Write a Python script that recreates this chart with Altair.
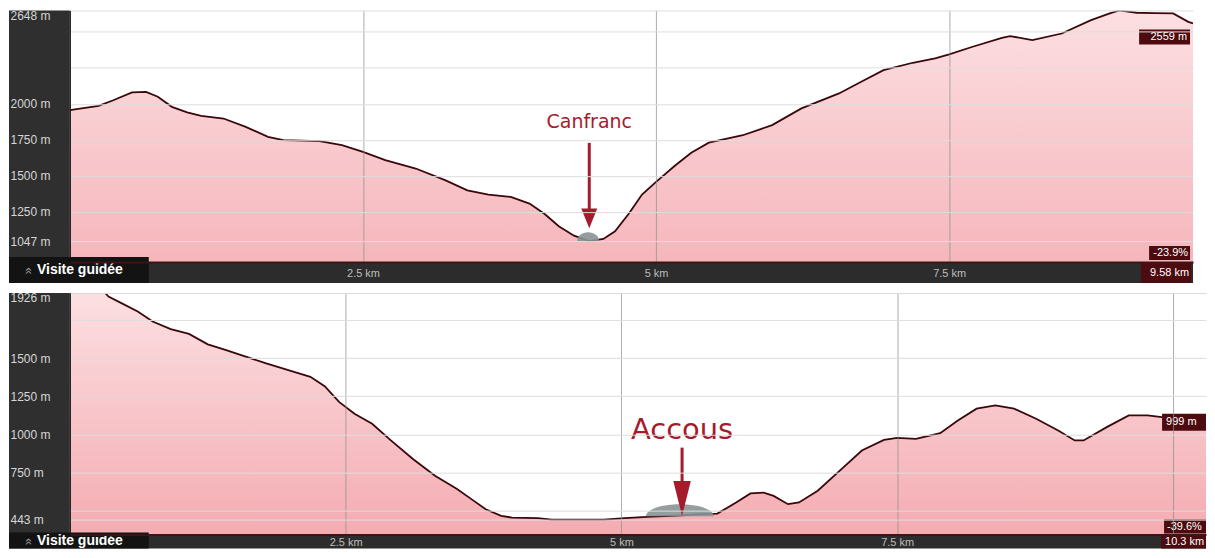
import altair as alt
import pandas as pd

# ---------------- data ----------------
top_km = [0, 0.245, 0.37, 0.53, 0.65, 0.75, 0.87, 1.0, 1.12, 1.31, 1.50, 1.69, 1.82, 2.13, 2.32, 2.5,
          2.69, 2.95, 3.20, 3.39, 3.57, 3.76, 3.92, 4.05, 4.17, 4.30, 4.43, 4.55, 4.65, 4.77, 4.88,
          5.0, 5.16, 5.30, 5.45, 5.74, 5.99, 6.24, 6.56, 6.75, 6.94, 7.19, 7.38, 7.5, 7.70, 7.95,
          8.02, 8.21, 8.46, 8.71, 8.87, 8.95, 9.1, 9.25, 9.41, 9.54, 9.58]
top_elev = [1956, 1986, 2025, 2079, 2083, 2049, 1979, 1940, 1917, 1898, 1840, 1771, 1748, 1741, 1713, 1667,
            1609, 1551, 1470, 1400, 1370, 1354, 1308, 1235, 1150, 1085, 1047, 1062, 1115, 1240, 1370,
            1458, 1570, 1660, 1730, 1782, 1852, 1968, 2072, 2153, 2234, 2285, 2315, 2343, 2396, 2458,
            2470, 2442, 2488, 2581, 2627, 2648, 2632, 2630, 2627, 2569, 2559]

bot_km = [0, 0.32, 0.35, 0.48, 0.615, 0.75, 0.914, 1.08, 1.25, 1.41, 1.58, 1.78, 1.98, 2.18, 2.31, 2.44,
          2.58, 2.74, 2.91, 3.11, 3.31, 3.51, 3.64, 3.77, 3.91, 4.01, 4.24, 4.37, 4.84, 5.03, 5.23,
          5.54, 5.70, 5.87, 6.04, 6.17, 6.29, 6.38, 6.51, 6.61, 6.78, 6.98, 7.18, 7.38, 7.5, 7.67,
          7.89, 8.05, 8.22, 8.39, 8.56, 8.76, 8.96, 9.11, 9.19, 9.40, 9.60, 9.77, 9.90, 10.1, 10.3]
bot_elev = [1926, 1926, 1903, 1855, 1805, 1739, 1689, 1658, 1590, 1553, 1513, 1465, 1421, 1377, 1316, 1213,
            1136, 1070, 961, 840, 730, 643, 577, 511, 467, 456, 452, 443, 443, 452, 461,
            471, 478, 482, 555, 614, 620, 598, 544, 555, 632, 763, 895, 965, 978, 971,
            1009, 1092, 1169, 1191, 1169, 1103, 1026, 961, 961, 1048, 1125, 1125, 1114, 1110, 1106]

top_yticks = [1047, 1250, 1500, 1750, 2000, 2250, 2500, 2648]
top_yhidden = [2250, 2500]
bot_yticks = [443, 500, 750, 1000, 1250, 1500, 1750, 1926]
bot_yhidden = [500, 1750]
top_xticks = [2.5, 5, 7.5]
bot_xticks = [2.5, 5, 7.5, 10]
bot_xhidden = [10]

towns = ["Canfranc", "Accous"]
town_km = [4.43, 5.55]
town_text_elev = [1873, 1030]
arrow_top_elev = [1729, 914]
arrow_bot_elev = [1250, 684]
arrow_head_elev = [1205, 582]
bump_km = [4.42, 5.53]
bump_elev = [1047, 465]

top_end_labels = ["2559 m", "-23.9%", "9.58 km"]
bot_end_labels = ["999 m", "-39.6%", "10.3 km"]
guide_label = "Visite guidée"

# ---------------- style ----------------
FONT = "Liberation Sans"
LINE = "#3a080b"
STRIP = "#2f2f2f"
BAR = "#2c2c2c"
VISITE = "#131313"
BOX = "#4d0b10"
RED = "#a51b2c"
GRAD = alt.Gradient(gradient="linear",
                    stops=[alt.GradientStop(color="#fcdfe2", offset=0),
                           alt.GradientStop(color="#f2a1a7", offset=1)],
                    x1=1, x2=1, y1=0, y2=1)

base = pd.DataFrame({"k": [0]})


def rect(x0, x1, y0, y1, color):
    return alt.Chart(base).mark_rect(color=color).encode(
        x=alt.value(x0), x2=alt.value(x1), y=alt.value(y0), y2=alt.value(y1))


def label(x, y, txt, align="right", color="white", size=11, weight="normal", font=FONT, angle=0):
    return alt.Chart(base).mark_text(text=txt, align=align, baseline="middle", color=color,
                                     fontSize=size, fontWeight=weight, font=font, angle=angle).encode(
        x=alt.value(x), y=alt.value(y))


def panel(km, elev, xmax, ymin, ymax, W, H, B, yticks, yhidden, xticks, xhidden, i,
          head_shape, head_size, bump_shape, bump_size, town_size, end_boxes, vis_top, xlabpad):
    xs = alt.Scale(domain=[0, xmax], nice=False, zero=False)
    ys = alt.Scale(domain=[ymin, ymax], nice=False, zero=False)
    yh = ",".join(str(v) for v in yhidden)
    xh = ",".join(str(v) for v in xhidden)
    yaxis = alt.Axis(values=yticks, title=None, orient="left",
                     labelExpr=f"indexof([{yh}], datum.value) >= 0 ? '' : datum.value + ' m'",
                     labelAlign="left", labelPadding=60, labelFlush=True, labelOverlap=False,
                     labelFont=FONT, labelFontSize=12, labelColor="#d6d6d6",
                     ticks=False, tickSize=0, domain=True, domainColor="#111111", domainWidth=1,
                     grid=True, gridColor="#dddddd", gridWidth=1,
                     minExtent=61, maxExtent=61, zindex=1)
    xaxis = alt.Axis(values=xticks, title=None, orient="bottom",
                     labelExpr=f"indexof([{xh}], datum.value) >= 0 ? '' : datum.value + ' km'",
                     labelPadding=xlabpad, labelFlush=False, labelOverlap=False,
                     labelFont=FONT, labelFontSize=11, labelColor="#bdbdbd",
                     ticks=False, tickSize=0, domain=True, domainColor="#3b1616", domainWidth=2,
                     grid=True, gridColor="#8f8f8f", gridOpacity=0.75, gridWidth=1,
                     minExtent=B, maxExtent=B, zindex=1)
    X = alt.X("km:Q", scale=xs, axis=xaxis)
    Y = alt.Y("elev:Q", scale=ys, axis=yaxis)

    df = pd.DataFrame({"km": km, "elev": elev})
    area = alt.Chart(df).mark_area(color=GRAD, clip=True).encode(x=X, y=Y, y2=alt.value(H))
    line = alt.Chart(df).mark_line(color=LINE, strokeWidth=1.8, clip=True).encode(x=X, y=Y)

    bdf = pd.DataFrame({"km": [bump_km[i]], "elev": [bump_elev[i]]})
    bump = alt.Chart(bdf).mark_point(shape=bump_shape, size=bump_size, filled=True,
                                     color="#8a9393", opacity=0.9, strokeWidth=0).encode(x=X, y=Y)
    rdf = pd.DataFrame({"km": [town_km[i]], "elev": [arrow_top_elev[i]], "elev2": [arrow_bot_elev[i]]})
    rule = alt.Chart(rdf).mark_rule(color=RED, strokeWidth=3).encode(x=X, y=Y, y2="elev2:Q")
    hdf = pd.DataFrame({"km": [town_km[i]], "elev": [arrow_head_elev[i]]})
    head = alt.Chart(hdf).mark_point(shape=head_shape, size=head_size, filled=True,
                                     color=RED, opacity=1, strokeWidth=0).encode(x=X, y=Y)
    tdf = pd.DataFrame({"km": [town_km[i]], "elev": [town_text_elev[i]], "name": [towns[i]]})
    ttext = alt.Chart(tdf).mark_text(font="DejaVu Sans", fontSize=town_size, color=RED,
                                     baseline="middle", align="center").encode(x=X, y=Y, text="name:N")

    layers = [rect(-61, 0, 0, H, STRIP), rect(-61, W, H, H + B, BAR),
              area, line, bump, rule, head, ttext,
              rect(-61, 79, vis_top, H + B, VISITE),
              label(-42, (vis_top + H + B) / 2 + 1, "\u00bb", align="center", color="#9a9a9a", size=13, angle=270),
              label(-33, (vis_top + H + B) / 2, guide_label, align="left", size=14, weight="bold")]
    for (x0, x1, y0, y1, txt, tx, al) in end_boxes:
        layers.append(rect(x0, x1, y0, y1, BOX))
        layers.append(label(tx, (y0 + y1) / 2, txt, align=al))
    return alt.layer(*layers).properties(width=W, height=H)


W1, H1, B1 = 1125, 252, 21
W2, H2, B2 = 1138, 242, 14

top = panel(top_km, top_elev, 9.58, 902, 2648, W1, H1, B1, top_yticks, top_yhidden, top_xticks, [], 0,
            "M-0.8,-1L0.8,-1L0,1Z", 400, "M-1,0A1,0.8 0 0 1 1,0Z", 484, 19,
            [(1071, 1122, 19, 34, top_end_labels[0], 1119, "right"),
             (1081, 1122, 236, 250, top_end_labels[1], 1120, "right"),
             (1073, 1123, H1, H1 + B1, top_end_labels[2], 1121, "right")],
            H1 - 5, 5)

bot = panel(bot_km, bot_elev, 10.3, 345, 1926, W2, H2, B2, bot_yticks, bot_yhidden, bot_xticks, bot_xhidden, 1,
            "M-0.5,-1L0.5,-1L0,1Z", 1225, "M-1,0A1,0.35 0 0 1 1,0Z", 4624, 29,
            [(1094, 1138, 121, 138, bot_end_labels[0], 1098, "left"),
             (1096, 1138, 227, 241, bot_end_labels[1], 1099, "left"),
             (1093, 1138, H2, H2 + B2, bot_end_labels[2], 1097, "left")],
            H2 - 2, 2)

chart = alt.vconcat(top, bot, spacing=7).properties(padding=0, background="white").configure_view(
    stroke="transparent")

chart.save("out.html", embed_options={"renderer": "svg", "actions": False})
